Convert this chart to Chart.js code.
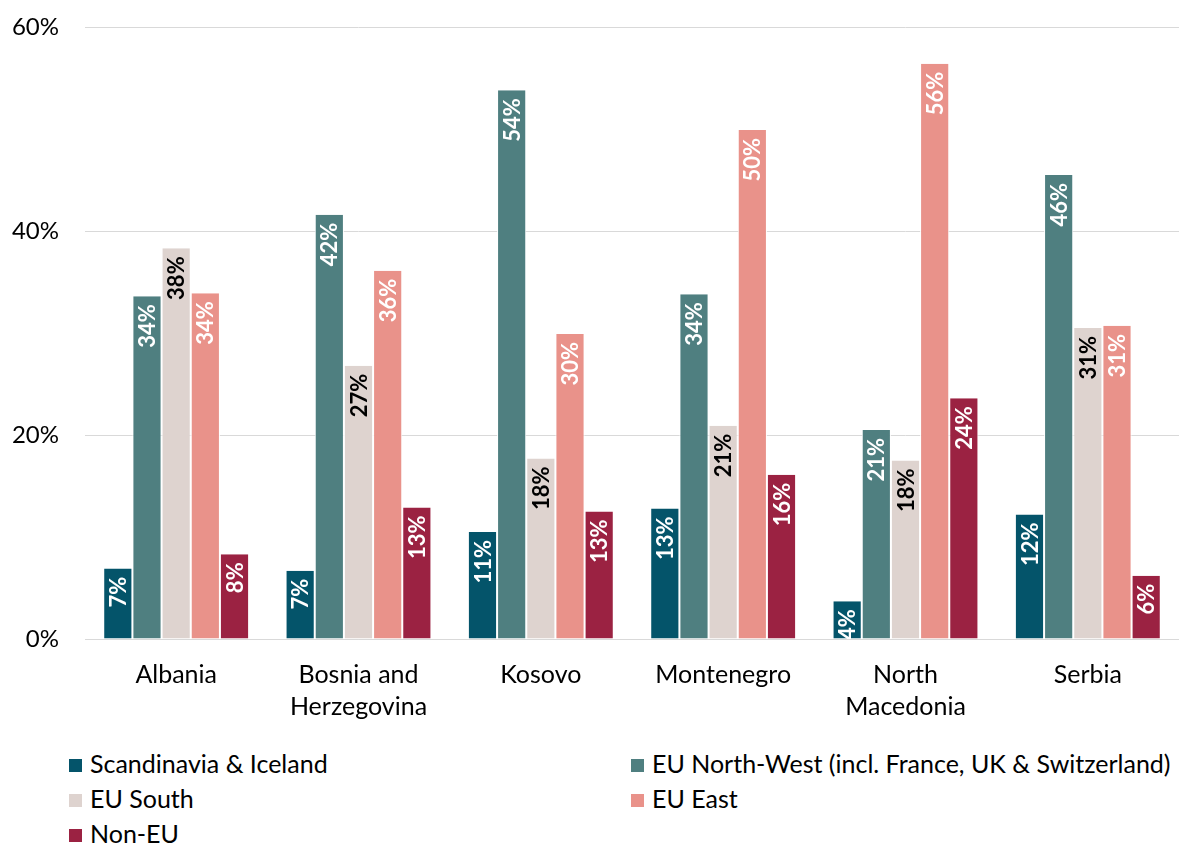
<!DOCTYPE html>
<html>
<head>
<meta charset="utf-8">
<script src="https://cdn.jsdelivr.net/npm/chart.js@4/dist/chart.umd.min.js"></script>
<style>
  html, body { margin: 0; padding: 0; background: #fff; }
  .wrap { position: relative; width: 1179px; height: 843px; }
  #chart { position: absolute; left: 0; top: 0; }
  .legend { position: absolute; left: 69px; top: 746px; width: 1110px; font-family: Lato, sans-serif; font-size: 25px; color: #000; }
  .legend__item { position: absolute; white-space: nowrap; line-height: 34px; }
  .legend__box { display: inline-block; width: 13px; height: 13px; margin-right: 8px; vertical-align: 1px; }
</style>
</head>
<body>
<div class="wrap">
  <canvas id="chart" width="1179" height="740"></canvas>
  <div class="legend" id="legend"></div>
</div>
<script>
const countries = ["Albania", ["Bosnia and", "Herzegovina"], "Kosovo", "Montenegro", ["North", "Macedonia"], "Serbia"];
const seriesNames = ["Scandinavia & Iceland", "EU North-West (incl. France, UK & Switzerland)", "EU South", "EU East", "Non-EU"];
const scandinavia = [6.9, 6.7, 10.5, 12.8, 3.7, 12.2];
const euNorthWest = [33.6, 41.6, 53.8, 33.8, 20.5, 45.5];
const euSouth = [38.3, 26.8, 17.7, 20.9, 17.5, 30.5];
const euEast = [33.9, 36.1, 29.9, 49.9, 56.4, 30.7];
const nonEu = [8.3, 12.9, 12.5, 16.1, 23.6, 6.2];
const yTicks = [0, 20, 40, 60];

const colors = ["#04546A", "#4F7F80", "#DED3CF", "#E9928A", "#9B2242"];
const labelColors = ["#fff", "#fff", "#000", "#fff", "#fff"];
const FONT = "Lato, sans-serif";

// rotated value labels at the top inside each bar
const barLabels = {
  id: "barLabels",
  afterDatasetsDraw(chart) {
    const ctx = chart.ctx;
    const area = chart.chartArea;
    ctx.save();
    ctx.beginPath();
    ctx.rect(area.left, area.top, area.right - area.left, area.bottom - area.top);
    ctx.clip();
    chart.data.datasets.forEach((ds, i) => {
      const meta = chart.getDatasetMeta(i);
      meta.data.forEach((bar, j) => {
        ctx.save();
        ctx.translate(bar.x, bar.y + 8);
        ctx.rotate(-Math.PI / 2);
        ctx.fillStyle = labelColors[i];
        ctx.font = "bold 22px " + FONT;
        ctx.textAlign = "right";
        ctx.textBaseline = "middle";
        ctx.fillText(Math.round(ds.data[j]) + "%", 0, 1);
        ctx.restore();
      });
    });
    ctx.restore();
  },
};

const allSeries = [scandinavia, euNorthWest, euSouth, euEast, nonEu];

const chart = new Chart(document.querySelector("#chart"), {
  type: "bar",
  data: {
    labels: countries,
    datasets: allSeries.map((values, i) => ({
      label: seriesNames[i],
      data: values,
      backgroundColor: colors[i],
      borderColor: "#ffffff",
      borderWidth: { left: 1, right: 1, top: 0, bottom: 0 },
      borderSkipped: false,
      categoryPercentage: 0.8,
      barPercentage: 1.0,
    })),
  },
  options: {
    responsive: false,
    animation: false,
    layout: { padding: { top: 27, right: 0, left: 0, bottom: 0 } },
    plugins: {
      legend: { display: false },
      tooltip: { enabled: false },
    },
    scales: {
      x: {
        grid: { display: false, drawTicks: false },
        border: { color: "#d9d9d9", width: 1 },
        ticks: { color: "#000", font: { family: FONT, size: 25, lineHeight: 1.28 }, padding: 20, maxRotation: 0 },
        afterFit: (s) => { s.height = 101; },
      },
      y: {
        min: 0,
        max: 60,
        afterBuildTicks: (s) => { s.ticks = yTicks.map((v) => ({ value: v })); },
        grid: { color: "#d9d9d9", drawTicks: false },
        border: { display: false },
        ticks: {
          color: "#000",
          font: { family: FONT, size: 24 },
          padding: 26,
          callback: (v) => v + "%",
        },
        afterFit: (s) => {
          s.width = 85;
          s.paddingTop = 0;
        },
      },
    },
  },
  plugins: [barLabels],
});

// two-column legend like the original
const legend = document.querySelector("#legend");
const legendPos = [[0, 0], [562, 0], [0, 35], [562, 35], [0, 70]];
chart.data.datasets.forEach((ds, i) => {
  const item = document.createElement("div");
  item.className = "legend__item";
  item.style.left = legendPos[i][0] + "px";
  item.style.top = legendPos[i][1] + "px";
  const box = document.createElement("span");
  box.className = "legend__box";
  box.style.background = ds.backgroundColor;
  item.appendChild(box);
  item.appendChild(document.createTextNode(ds.label));
  legend.appendChild(item);
});
</script>
</body>
</html>
